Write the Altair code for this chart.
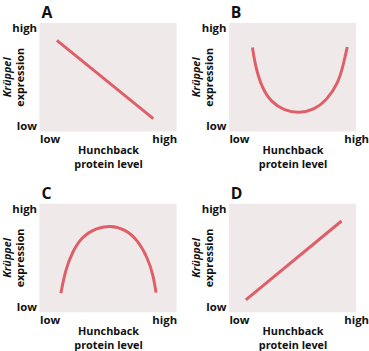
import altair as alt
import pandas as pd

# ---- data (normalized: 0 = low, 1 = high) ----
a_x = [0.127, 0.83]
a_y = [0.84, 0.12]

b_x = [0.185, 0.205, 0.256, 0.333, 0.436, 0.55, 0.667, 0.77, 0.86, 0.90, 0.93]
b_y = [0.775, 0.62, 0.41, 0.27, 0.195, 0.17, 0.20, 0.29, 0.45, 0.62, 0.78]

c_x = [0.156, 0.19, 0.24, 0.31, 0.41, 0.516, 0.624, 0.72, 0.79, 0.83, 0.85]
c_y = [0.174, 0.39, 0.557, 0.695, 0.775, 0.80, 0.765, 0.66, 0.495, 0.34, 0.18]

d_x = [0.133, 0.885]
d_y = [0.113, 0.84]

panel_letters = ["A", "B", "C", "D"]
tick_values = [0, 1]
tick_labels = ["low", "high"]
x_title = ["Hunchback", "protein level"]
y_title_italic = "Krüppel"
y_title_plain = "expression"

LINE = "#df5f68"
BG = "#efe9e9"
FONT = "Open Sans"
H = 110
FS = 11.5


def panel(xs, ys, letter, width, right_center):
    df = pd.DataFrame({"x": xs, "y": ys})
    label_expr = f"datum.value < 0.5 ? '{tick_labels[0]}' : '{tick_labels[1]}'"
    if right_center:
        x_axis = alt.Axis(values=tick_values, labelExpr=label_expr, ticks=False, domain=False,
                          grid=False, labelPadding=2,
                          labelAlign={"condition": {"test": "datum.value < 0.5", "value": "left"},
                                      "value": "center"},
                          title=x_title, titlePadding=0)
    else:
        x_axis = alt.Axis(values=tick_values, labelExpr=label_expr, ticks=False, domain=False,
                          grid=False, labelPadding=2, labelFlush=True,
                          title=x_title, titlePadding=0)
    y_axis = alt.Axis(values=tick_values, labelExpr=label_expr, ticks=False, domain=False,
                      grid=False, labelPadding=3, labelFlush=True, title=None)
    line = alt.Chart(df).mark_line(color=LINE, strokeWidth=3, interpolate="basis",
                                   strokeCap="butt").encode(
        x=alt.X("x:Q", scale=alt.Scale(domain=[0, 1], nice=False), axis=x_axis),
        y=alt.Y("y:Q", scale=alt.Scale(domain=[0, 1], nice=False), axis=y_axis),
    )
    t1 = alt.Chart(pd.DataFrame({"t": [y_title_italic]})).mark_text(
        angle=270, fontStyle="italic", fontWeight="bold", font=FONT, fontSize=11,
        align="center", baseline="middle", color="#111"
    ).encode(text="t:N", x=alt.value(-32), y=alt.value(H / 2))
    t2 = alt.Chart(pd.DataFrame({"t": [y_title_plain]})).mark_text(
        angle=270, fontWeight="bold", font=FONT, fontSize=11,
        align="center", baseline="middle", color="#111"
    ).encode(text="t:N", x=alt.value(-19), y=alt.value(H / 2))
    return alt.layer(line, t1, t2).properties(
        width=width, height=H,
        title=alt.TitleParams(letter, anchor="start", frame="group", fontSize=16,
                              fontWeight="bold", font=FONT, offset=2, dx=2, color="#111"),
    )


pa = panel(a_x, a_y, panel_letters[0], 139, False)
pb = panel(b_x, b_y, panel_letters[1], 129, True)
pc = panel(c_x, c_y, panel_letters[2], 139, False)
pd_ = panel(d_x, d_y, panel_letters[3], 129, True)

chart = alt.concat(pa, pb, pc, pd_, columns=2, spacing={"row": 73, "column": 53},
                   bounds="flush").properties(
    padding={"left": 2, "top": 3, "right": 0, "bottom": 0},
    background="white",
).configure_view(fill=BG, stroke=None).configure_axis(
    labelFont=FONT, labelFontSize=FS, labelFontWeight="bold", labelColor="#111",
    titleFont=FONT, titleFontSize=11, titleFontWeight="bold", titleColor="#111",
    titleLineHeight=14,
)

chart.save("out.html", embed_options={"renderer": "svg", "actions": False})
